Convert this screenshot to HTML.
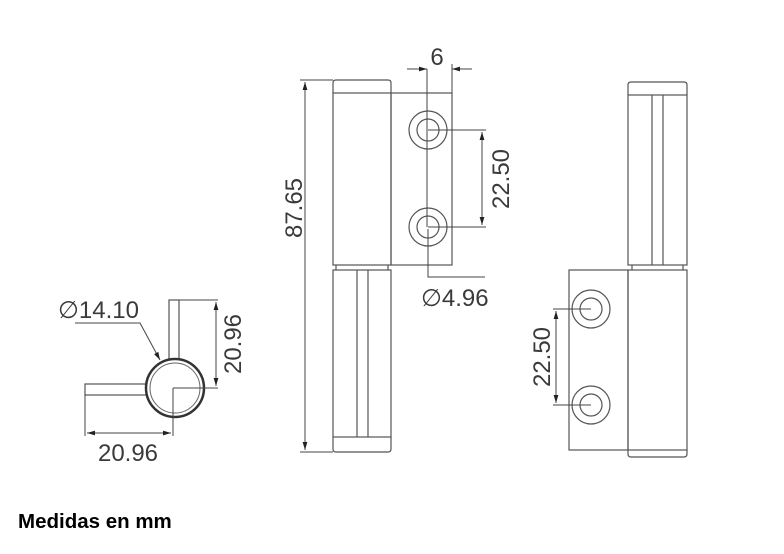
<!DOCTYPE html>
<html><head><meta charset="utf-8"><style>
html,body{margin:0;padding:0;background:#fff;width:784px;height:554px;overflow:hidden}
svg{display:block}
.t{font-family:"Liberation Sans",sans-serif;font-size:24px;fill:#3a3a3a}
</style></head><body>
<svg width="784" height="554" viewBox="0 0 784 554" xmlns="http://www.w3.org/2000/svg">
<defs>
<marker id="a" viewBox="0 0 10 10" refX="10" refY="5" markerWidth="8" markerHeight="8" orient="auto-start-reverse"><path d="M0,2 L10,5 L0,8 z" fill="#222"/></marker>
</defs>
<g fill="none" stroke="#555" stroke-width="1.2">
<path d="M333,93 L333,83 Q333,80 336,80 L388,80 Q391,80 391,83 L391,93"/>
<rect x="333" y="93" width="58" height="172"/>
<rect x="391" y="93" width="61" height="172"/>
<path d="M336,265 L336,270 M388,265 L388,270"/>
<rect x="333" y="270" width="58" height="167"/>
<path d="M357,270 L357,437 M368,270 L368,437"/>
<path d="M333,437 L333,449 Q333,452 336,452 L388,452 Q391,452 391,449 L391,437"/>
<circle cx="428" cy="130" r="19"/><circle cx="428" cy="130" r="11"/>
<circle cx="428" cy="227" r="19"/><circle cx="428" cy="227" r="11"/>
<path d="M628,95 L628,85 Q628,82 631,82 L684,82 Q687,82 687,85 L687,95"/>
<rect x="628" y="95" width="59" height="170"/>
<path d="M652,95 L652,265 M663,95 L663,265"/>
<path d="M632,265 L632,270 M683,265 L683,270"/>
<rect x="569" y="270" width="59" height="180"/>
<rect x="628" y="270" width="59" height="180"/>
<path d="M628,450 L628,454 Q628,457 631,457 L684,457 Q687,457 687,454 L687,450"/>
<circle cx="591" cy="309" r="19"/><circle cx="591" cy="309" r="11"/>
<circle cx="591" cy="405" r="19"/><circle cx="591" cy="405" r="11"/>
<rect x="169" y="300" width="10" height="60"/>
<rect x="85" y="384" width="62" height="11"/>
</g>
<circle cx="175" cy="388" r="29" fill="#fff" stroke="#333" stroke-width="2.5"/>
<circle cx="175" cy="388" r="25" fill="none" stroke="#666" stroke-width="1"/>
<g fill="none" stroke="#444" stroke-width="1">
<path d="M300,80 L333,80 M300,452 L333,452"/>
<path d="M305,82 L305,450" marker-start="url(#a)" marker-end="url(#a)"/>
<path d="M407,69 L427,69" marker-end="url(#a)"/>
<path d="M472,69 L452,69" marker-end="url(#a)"/>
<path d="M427,69 L427,227 M452,64 L452,93"/>
<path d="M428,130 L486,130 M428,227 L486,227"/>
<path d="M482,132 L482,225" marker-start="url(#a)" marker-end="url(#a)"/>
<path d="M428,229 L428,277 L485,277"/>
<path d="M553,309 L591,309 M553,405 L591,405"/>
<path d="M556,311 L556,403" marker-start="url(#a)" marker-end="url(#a)"/>
<path d="M179,300 L218,300 M173,388 L218,388 M173,388 L173,436 M85,395 L85,436"/>
<path d="M216,302 L216,386" marker-start="url(#a)" marker-end="url(#a)"/>
<path d="M87,433 L171,433" marker-start="url(#a)" marker-end="url(#a)"/>
<path d="M75,323 L140,323 L160,360" marker-end="url(#a)"/>
</g>
<text class="t" x="437" y="65" text-anchor="middle">6</text>
<text class="t" transform="translate(302,208) rotate(-90)" text-anchor="middle">87.65</text>
<text class="t" transform="translate(509,179) rotate(-90)" text-anchor="middle">22.50</text>
<text class="t" x="421" y="306">∅4.96</text>
<text class="t" transform="translate(550,357) rotate(-90)" text-anchor="middle">22.50</text>
<text class="t" transform="translate(241,344) rotate(-90)" text-anchor="middle">20.96</text>
<text class="t" x="128" y="461" text-anchor="middle">20.96</text>
<text class="t" x="58" y="318">∅14.10</text>
<text x="18" y="528" style="font-family:'Liberation Sans',sans-serif;font-weight:bold;font-size:20.5px;fill:#000">Medidas en mm</text>
</svg>
</body></html>
